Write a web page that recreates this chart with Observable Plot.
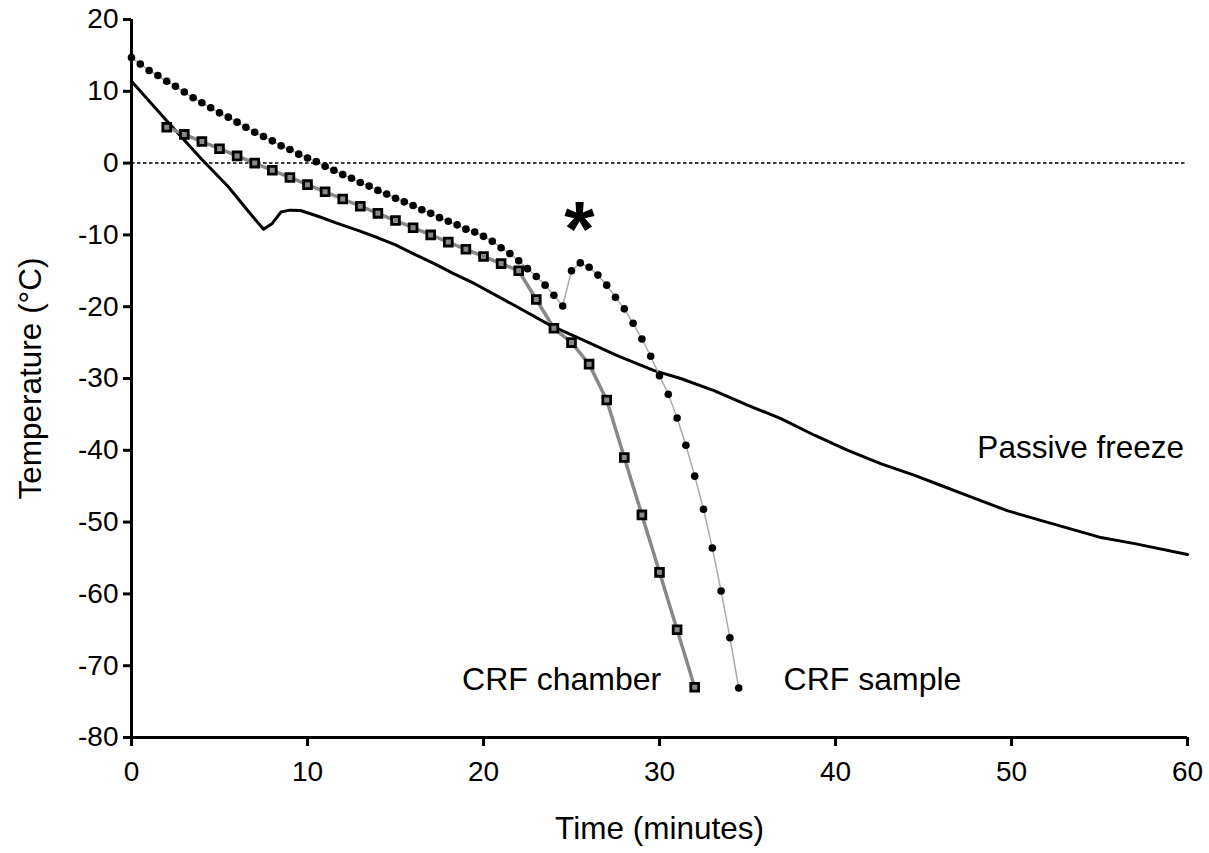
<!DOCTYPE html>
<html><head><meta charset="utf-8">
<script src="https://cdn.jsdelivr.net/npm/d3@7"></script>
<script src="https://cdn.jsdelivr.net/npm/@observablehq/plot@0.6"></script>
<style>body{margin:0;background:#fff;} svg{display:block}</style>
</head><body><div id="chart"></div>
<script>
const xTicks = [0, 10, 20, 30, 40, 50, 60];
const yTicks = [20, 10, 0, -10, -20, -30, -40, -50, -60, -70, -80];

const chamberTime = [2, 3, 4, 5, 6, 7, 8, 9, 10, 11, 12, 13, 14, 15, 16, 17, 18, 19, 20, 21, 22, 23, 24, 25, 26, 27, 28, 29, 30, 31, 32];
const chamberTemp = [5, 4, 3, 2, 1, 0, -1, -2, -3, -4, -5, -6, -7, -8, -9, -10, -11, -12, -13, -14, -15, -19, -23, -25, -28, -33, -41, -49, -57, -65, -73];

const sampleTime = [0, 0.5, 1, 1.5, 2, 2.5, 3, 3.5, 4, 4.5, 5, 5.5, 6, 6.5, 7, 7.5, 8, 8.5, 9, 9.5, 10, 10.5, 11, 11.5, 12, 12.5, 13, 13.5, 14, 14.5, 15, 15.5, 16, 16.5, 17, 17.5, 18, 18.5, 19, 19.5, 20, 20.5, 21, 21.5, 22, 22.5, 23, 23.5, 24, 24.5, 25, 25.5, 26, 26.5, 27, 27.5, 28, 28.5, 29, 29.5, 30, 30.5, 31, 31.5, 32, 32.5, 33, 33.5, 34, 34.5];
const sampleTemp = [14.7, 13.8, 12.9, 12.2, 11.4, 10.7, 9.9, 9.1, 8.4, 7.7, 7.0, 6.4, 5.7, 5.0, 4.3, 3.7, 3.1, 2.4, 1.9, 1.25, 0.7, 0.2, -0.45, -1.0, -1.6, -2.1, -2.7, -3.2, -3.8, -4.3, -4.9, -5.4, -5.9, -6.5, -7.0, -7.6, -8.1, -8.6, -9.2, -9.6, -10.2, -10.9, -11.8, -12.6, -13.6, -14.7, -15.8, -17.0, -18.4, -19.9, -15.0, -13.9, -14.5, -15.6, -17.0, -18.7, -20.3, -22.3, -24.5, -26.9, -29.6, -32.2, -35.5, -39.3, -43.6, -48.2, -53.6, -59.6, -66.1, -73.1];

const passiveTime = [0, 2, 4, 5.5, 6.6, 7.5, 8, 8.5, 9, 9.6, 10.6, 11.7, 12.9, 14, 15, 16, 17.2, 18.3, 19.5, 21, 21.9, 23.8, 25.7, 27.6, 29.7, 31.2, 33.1, 35, 36.9, 38.8, 40.7, 42.6, 44.5, 46, 47.5, 49.75, 52, 55, 57, 60];
const passiveTemp = [11.4, 5.9, 0.5, -3.3, -6.6, -9.2, -8.4, -6.8, -6.55, -6.6, -7.4, -8.4, -9.4, -10.4, -11.4, -12.6, -14.0, -15.4, -16.8, -18.8, -20.0, -22.6, -24.7, -26.8, -28.9, -30.0, -31.7, -33.7, -35.6, -37.9, -40.0, -41.9, -43.5, -44.9, -46.3, -48.4, -50.0, -52.1, -53.0, -54.5];

const seriesLabels = ["CRF chamber", "CRF sample", "Passive freeze"];
const markerText = "*";
const xLabel = "Time (minutes)";
const yLabel = "Temperature (°C)";

const rows = (xs, ys) => xs.map((x, i) => ({x, y: ys[i]}));
const chamber = rows(chamberTime, chamberTemp);
const sample = rows(sampleTime, sampleTemp);
const passive = rows(passiveTime, passiveTemp);
const fmt = d => String(d);

const chart = Plot.plot({
  width: 1209, height: 853,
  marginLeft: 131, marginRight: 22, marginTop: 19, marginBottom: 116,
  x: {domain: [0, 60]},
  y: {domain: [-80, 20]},
  style: {fontFamily: "Arial, 'Liberation Sans', sans-serif", background: "#fff", color: "#000", overflow: "visible"},
  marks: [
    Plot.ruleY([0], {x1: 0, x2: 60, stroke: "#000", strokeWidth: 1.5, strokeDasharray: "3.5,2.5"}),
    Plot.line(passive, {x: "x", y: "y", stroke: "#000", strokeWidth: 3}),
    Plot.line(chamber, {x: "x", y: "y", stroke: "#888", strokeWidth: 3.5}),
    Plot.line(sample, {x: "x", y: "y", stroke: "#aaa", strokeWidth: 1.5}),
    Plot.dot(sample, {x: "x", y: "y", r: 3.8, fill: "#000", stroke: "none"}),
    Plot.dot(chamber, {x: "x", y: "y", symbol: "square", r: 4.4, fill: "#888", stroke: "#000", strokeWidth: 2.8}),
    Plot.axisX({ticks: xTicks, tickSize: 9, strokeWidth: 3, label: null, tickFormat: () => ""}),
    Plot.axisY({ticks: yTicks, tickSize: 8, strokeWidth: 3, label: null, tickFormat: () => ""}),
    Plot.text(xTicks, {x: d => d, frameAnchor: "bottom", dy: 24, text: fmt, textAnchor: "middle", lineAnchor: "top", fontSize: 28}),
    Plot.text(yTicks, {y: d => d, frameAnchor: "left", dx: -13, text: fmt, textAnchor: "end", lineAnchor: "middle", fontSize: 28}),
    Plot.ruleX([0], {y1: -80, y2: 20, stroke: "#000", strokeWidth: 3}),
    Plot.ruleY([-80], {x1: 0, x2: 60, stroke: "#000", strokeWidth: 3}),
    Plot.text([seriesLabels[0]], {x: 30.1, y: -72, text: d => d, textAnchor: "end", lineAnchor: "middle", fontSize: 32}),
    Plot.text([seriesLabels[1]], {x: 37.05, y: -72, text: d => d, textAnchor: "start", lineAnchor: "middle", fontSize: 32}),
    Plot.text([seriesLabels[2]], {x: 59.8, y: -39.6, text: d => d, textAnchor: "end", lineAnchor: "middle", fontSize: 31.5}),
    Plot.text([markerText], {x: 25.45, y: -13.0, text: d => d, textAnchor: "middle", lineAnchor: "bottom", fontSize: 78, fontWeight: "bold"}),
    Plot.text([yLabel], {frameAnchor: "left", dx: -101, rotate: -90, text: d => d, textAnchor: "middle", lineAnchor: "middle", fontSize: 31.5}),
    Plot.text([xLabel], {frameAnchor: "bottom", dy: 91, text: d => d, textAnchor: "middle", lineAnchor: "middle", fontSize: 31.5})
  ]
});
document.getElementById("chart").appendChild(chart);
</script>
</body></html>
